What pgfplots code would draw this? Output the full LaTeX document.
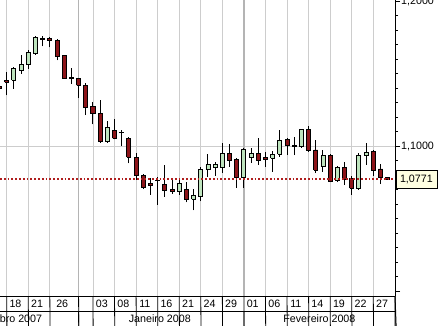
\documentclass[border=0pt]{standalone}
\usepackage{pgfplots}
\pgfplotsset{compat=1.18}
\usepackage{pgfplotstable}
\usepackage{fontspec}
\setmainfont{Liberation Sans}
\definecolor{candgreen}{RGB}{190,228,190}
\definecolor{candred}{RGB}{140,20,25}
\definecolor{gridgray}{RGB}{205,205,205}
\definecolor{monthgray}{RGB}{180,180,180}
\definecolor{lastred}{RGB}{175,30,30}
\definecolor{boxyellow}{RGB}{255,255,225}

\pgfplotstableread{
x o h l c
-1 1.1412 1.1446 1.1350 1.1398
0 1.1453 1.1510 1.1350 1.1441
1 1.1453 1.1544 1.1396 1.1533
2 1.1521 1.1629 1.1499 1.1560
3 1.1560 1.1665 1.1533 1.1643
4 1.1636 1.1761 1.1629 1.1750
5 1.1743 1.1761 1.1688 1.1734
6 1.1743 1.1750 1.1681 1.1725
7 1.1727 1.1739 1.1590 1.1619
8 1.1624 1.1629 1.1464 1.1469
9 1.1475 1.1537 1.1430 1.1464
10 1.1464 1.1469 1.1331 1.1418
11 1.1418 1.1437 1.1213 1.1263
12 1.1270 1.1304 1.1149 1.1224
13 1.1224 1.1316 1.1023 1.1033
14 1.1029 1.1174 1.1023 1.1128
15 1.1110 1.1190 1.1046 1.1053
16 1.1096 1.1110 1.1000 1.1092
17 1.1053 1.1060 1.0881 1.0922
18 1.0922 1.0954 1.0767 1.0794
19 1.0794 1.0808 1.0703 1.0717
20 1.0744 1.0778 1.0664 1.0728
21 1.0765 1.0785 1.0595 1.0762
22 1.0732 1.0870 1.0652 1.0693
23 1.0698 1.0767 1.0671 1.0684
24 1.0686 1.0772 1.0664 1.0739
25 1.0703 1.0755 1.0611 1.0634
26 1.0634 1.0703 1.0556 1.0657
27 1.0652 1.0858 1.0618 1.0839
28 1.0840 1.0943 1.0787 1.0874
29 1.0854 1.0892 1.0796 1.0870
30 1.0851 1.1019 1.0813 1.0950
31 1.0950 1.1012 1.0858 1.0899
32 1.0909 1.0920 1.0714 1.0783
33 1.0783 1.0988 1.0714 1.0977
34 1.0920 1.0984 1.0885 1.0950
35 1.0950 1.1053 1.0870 1.0904
36 1.0920 1.0961 1.0858 1.0911
37 1.0916 1.0966 1.0824 1.0943
38 1.0943 1.1110 1.0927 1.1041
39 1.1048 1.1057 1.0938 1.1002
40 1.1007 1.1064 1.0938 1.0995
41 1.0995 1.1121 1.0988 1.1115
42 1.1115 1.1137 1.0962 1.0967
43 1.0973 1.1041 1.0813 1.0835
44 1.0858 1.0973 1.0824 1.0933
45 1.0938 1.0943 1.0751 1.0755
46 1.0760 1.0865 1.0751 1.0854
47 1.0854 1.0892 1.0732 1.0767
48 1.0774 1.0796 1.0664 1.0710
49 1.0705 1.0950 1.0698 1.0938
50 1.0933 1.1019 1.0870 1.0957
51 1.0961 1.0973 1.0796 1.0835
52 1.0842 1.0874 1.0737 1.0783
53 1.0785 1.0787 1.0767 1.0771
}\candles

\begin{document}
\begin{tikzpicture}
\useasboundingbox (0,-30bp) rectangle (438bp,296bp);
\begin{axis}[
  at={(0,0)}, anchor=south west,
  scale only axis, width=395bp, height=296bp,
  xmin=-0.932, xmax=54.02, ymin=0.9966, ymax=1.2007,
  clip mode=individual,
  axis x line*=bottom, axis y line*=right,
  axis line style={black, line width=1bp},
  xtick={0,3,6,10,12,15,18,21,24,27,30,33,36,39,42,45,48,51},
  xticklabels={18,21,\hspace*{7.2bp}26,,03,08,11,16,21,24,29,01,06,11,14,19,22,27},
  xtick style={draw=none},
  xticklabel style={anchor=center, inner sep=0pt, xshift=8.8bp, yshift=-3bp},
  ytick={1.0,1.1,1.2},
  yticklabels={,{1,1000},{1,2000}},
  minor y tick num=9,
  tick align=outside,
  major tick length=5bp, minor tick length=3bp,
  y tick style={black, line width=0.8bp},
  yticklabel style={anchor=west, inner sep=0pt, xshift=1bp},
  xmajorgrids,
  grid style={gridgray, line width=0.8bp},
  tick label style={font=\fontsize{10.7bp}{12bp}\selectfont},
]
% horizontal grid line and month boundary grid lines
\draw[gridgray, line width=0.8bp] (axis cs:-0.932,1.1) -- (axis cs:54.02,1.1);
\draw[monthgray, line width=1.5bp] (axis cs:10,0.9966) -- (axis cs:10,1.2007);
\draw[monthgray, line width=1.5bp] (axis cs:33,0.9966) -- (axis cs:33,1.2007);

% candles: wick and body from the table
\pgfplotsinvokeforeach{0,...,54}{
  \pgfplotstablegetelem{#1}{x}\of\candles \let\cx\pgfplotsretval
  \pgfplotstablegetelem{#1}{o}\of\candles \let\co\pgfplotsretval
  \pgfplotstablegetelem{#1}{h}\of\candles \let\ch\pgfplotsretval
  \pgfplotstablegetelem{#1}{l}\of\candles \let\cl\pgfplotsretval
  \pgfplotstablegetelem{#1}{c}\of\candles \let\cc\pgfplotsretval
  \ifdim\cc pt<\co pt
    \def\cfill{candred}\let\clo\cc\let\chi\co
  \else
    \def\cfill{candgreen}\let\clo\co\let\chi\cc
  \fi
  \pgfmathsetmacro\xl{\cx-0.28}
  \pgfmathsetmacro\xr{\cx+0.28}
  \edef\doplot{%
    \noexpand\addplot[black, line width=1bp, forget plot] coordinates {(\cx,\cl) (\cx,\ch)};
    \noexpand\addplot[draw=black, line width=0.9bp, fill=\cfill, line join=miter, forget plot]
      coordinates {(\xl,\clo) (\xr,\clo) (\xr,\chi) (\xl,\chi) (\xl,\clo)};
  }
  \doplot
}

% last value line
\addplot[lastred, line width=1.8bp, dash pattern=on 1.8bp off 2bp] coordinates {(-0.932,1.0771) (54.02,1.0771)};

% date row separators
\pgfplotsinvokeforeach{0,3,6,10,12,15,18,21,24,27,30,33,36,39,42,45,48,51}{
  \draw[black, line width=0.8bp] (axis cs:#1,0.9966) -- ++(0,-15.5bp);
}
\draw[black, line width=1bp] (rel axis cs:1,0) -- ++(43bp,0);
\draw[black, line width=0.8bp] ([yshift=-15.5bp]rel axis cs:0,0) -- ([yshift=-15.5bp]rel axis cs:1,0);
\draw[black, line width=1bp] (rel axis cs:1,0) -- ++(0,-30bp);
\draw[black, line width=0.8bp] ([yshift=-15.5bp]axis cs:10,0.9966) -- ++(0,-15bp);
\draw[black, line width=0.8bp] ([yshift=-15.5bp]axis cs:33,0.9966) -- ++(0,-15bp);

% month labels
\node[anchor=east, inner sep=0pt, font=\fontsize{10.7bp}{12bp}\selectfont] at ([yshift=-23bp]axis cs:4.95,0.9966) {Dezembro 2007};
\node[inner sep=0pt, font=\fontsize{10.7bp}{12bp}\selectfont] at ([yshift=-23bp]axis cs:21.3,0.9966) {Janeiro 2008};
\node[inner sep=0pt, font=\fontsize{10.7bp}{12bp}\selectfont] at ([yshift=-23bp]axis cs:43.5,0.9966) {Fevereiro 2008};

% last value box
\node[draw=black, line width=0.8bp, fill=boxyellow, anchor=west, minimum width=41bp, minimum height=18bp, inner xsep=0pt, font=\fontsize{10.7bp}{12bp}\selectfont] at ([xshift=0.5bp]axis cs:54.02,1.0771) {1,0771};
\end{axis}
\end{tikzpicture}
\end{document}
